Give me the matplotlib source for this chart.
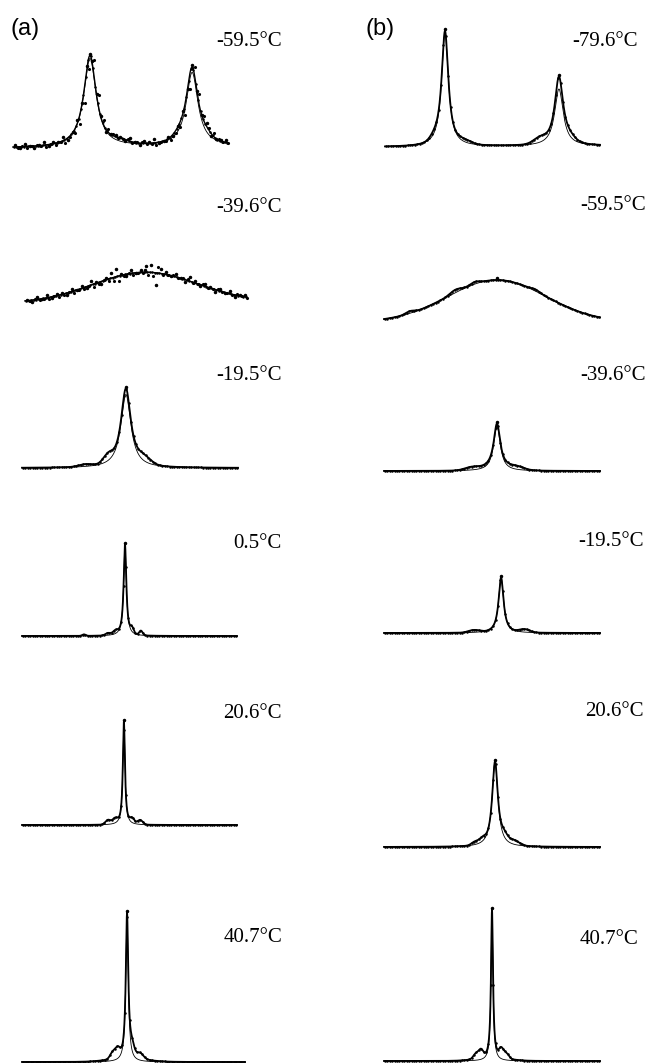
import numpy as np
import matplotlib.pyplot as plt

# temperature labels for the two series
temps_a = ["-59.5°C", "-39.6°C", "-19.5°C", "0.5°C", "20.6°C", "40.7°C"]
temps_b = ["-79.6°C", "-59.5°C", "-39.6°C", "-19.5°C", "20.6°C", "40.7°C"]

# line shape of each spectrum: L = lorentzian, G = gaussian
kind_a = ["L", "G", "L", "L", "L", "L"]
kind_b = ["L", "G", "L", "L", "L", "L"]

# peaks: (centre %, fit height, data height, half width %)  (x in % of sweep, intensity in a.u.)
peaks_a = [
    [(35.8, 0.59, 0.61, 3.5), (83.3, 0.49, 0.52, 3.3)],
    [(54.0, 0.20, 0.20, 23.4)],
    [(48.1, 0.49, 0.53, 2.8)],
    [(47.9, 0.61, 0.61, 0.75)],
    [(47.4, 0.69, 0.69, 0.6)],
    [(47.1, 0.97, 0.97, 0.67)],
]
peaks_b = [
    [(27.9, 0.76, 0.77, 1.9), (80.9, 0.38, 0.46, 2.4)],
    [(52.3, 0.28, 0.28, 22.7)],
    [(52.3, 0.30, 0.30, 1.85)],
    [(54.2, 0.37, 0.37, 1.4)],
    [(51.4, 0.57, 0.57, 1.6)],
    [(50.0, 0.99, 0.99, 0.55)],
]

# shoulders seen in the measured points only: (centre %, height, width %)
shoulders_a = [
    [(50.0, 0.02, 4.0), (77.7, 0.025, 3.0), (89.8, 0.03, 2.5)],
    [],
    [(29.2, 0.015, 3.0), (39.8, 0.05, 2.2), (56.5, 0.04, 3.0)],
    [(28.8, 0.01, 0.8), (40.0, 0.015, 1.2), (43.5, 0.025, 1.2), (51.2, 0.035, 0.8), (55.3, 0.03, 0.8)],
    [(40.0, 0.03, 1.2), (43.3, 0.035, 1.2), (51.2, 0.035, 1.0), (54.9, 0.03, 1.2)],
    [(47.0, 0.02, 8.0), (40.8, 0.045, 1.2), (43.0, 0.055, 1.0), (49.3, 0.065, 1.0), (52.9, 0.035, 1.5)],
]
shoulders_b = [
    [(23.0, 0.025, 2.0), (37.0, 0.02, 3.0), (72.1, 0.035, 3.0), (86.0, 0.025, 2.5)],
    [(12.0, 0.015, 2.0), (33.0, 0.02, 2.5), (42.0, 0.015, 2.0), (70.0, 0.012, 2.0)],
    [(40.3, 0.015, 3.0), (47.0, 0.012, 6.0), (57.0, 0.012, 6.0), (61.6, 0.015, 3.0)],
    [(40.3, 0.01, 2.0), (43.0, 0.01, 2.0), (63.9, 0.012, 2.0), (66.2, 0.012, 2.0)],
    [(42.0, 0.02, 1.5), (45.5, 0.03, 1.5), (55.6, 0.04, 1.5), (60.0, 0.03, 2.5)],
    [(50.0, 0.02, 7.0), (42.6, 0.035, 1.2), (44.9, 0.05, 1.0), (54.2, 0.055, 1.0), (56.5, 0.035, 1.2)],
]

# baseline level at start / end of sweep
base_a = [(0.0, 0.013), (0.0, 0.01), (0.0, 0.0), (0.0, 0.0), (0.0, 0.0), (0.0, 0.0)]
base_b = [(0.0, 0.007), (0.0, 0.0), (0.0, 0.0), (0.0, 0.0), (0.0, 0.0), (0.0, 0.0)]

# scatter of the measured points about the curve (a.u. x150) for the noisy spectra
noise_a1 = [2, -1, 3, 0, -2, 1, 3, -1, 2, 0, 4, -2, 1, 3, 0, 2, -1, 1, 3, -2, 0, 2, 1,
            -1, 3, 0, -2, 2, 1, 4, -1, 0, 2, -2, 1, 3, 0, -1, 2, 1, 3, -2, 0, 1, 2]
noise_a2 = [1, -2, 2, 0, 3, -1, 2, 1, -2, 3, 0, 2, -1, 4, 1, -3, 2, 5, 8, 1, -2, 3, 0,
            2, 6, 7, -12, 4, 2, -1, 3, 0, -2, 4, 2, -1, 3, 1, -2, 2, 0, 3, -2, 1, 2]

# placement of each trace on the page (pixels): left, width, baseline
place_a = [(13, 215, 148), (25, 222, 303), (22, 216, 468), (22, 215, 636), (22, 215, 825), (22, 223, 1062)]
place_b = [(385, 215, 147), (384, 216, 322), (384, 216, 471), (384, 216, 633), (384, 216, 847), (384, 216, 1061)]
label_pos_a = [(282, 41), (282, 207), (282, 375), (282, 543), (282, 713), (282, 938)]
label_pos_b = [(638, 42), (646, 206), (646, 375), (644, 542), (644, 712), (638, 939)]

W, H = 648, 1063
SCALE = 150.0  # pixels per intensity unit
PAD, TOP = 10, 160

fig = plt.figure(figsize=(W / 100, H / 100), dpi=100)


def curve(x, peaks, shoulders, base, kind, measured):
    y = base[0] + (base[1] - base[0]) * x / 100.0
    for c, a_fit, a_dat, w in peaks:
        a = a_dat if measured else a_fit
        if kind == "G":
            y = y + a * np.exp(-0.5 * ((x - c) / w) ** 2)
        else:
            y = y + a / (1 + ((x - c) / w) ** 2)
    if measured:
        for c, h, w in shoulders:
            y = y + h * np.exp(-0.5 * ((x - c) / w) ** 2)
    return y


x = np.linspace(0, 100, 3000)
noise = {("a", 0): noise_a1, ("a", 1): noise_a2}

for col, temps, kinds, peaks, shoulders, bases, places, lpos in [
    ("a", temps_a, kind_a, peaks_a, shoulders_a, base_a, place_a, label_pos_a),
    ("b", temps_b, kind_b, peaks_b, shoulders_b, base_b, place_b, label_pos_b),
]:
    for i in range(6):
        left, width, basey = places[i]
        ax = fig.add_axes([left / W, (H - basey - PAD) / H, width / W, (PAD + TOP) / H])
        ax.set_xlim(0, 100)
        ax.set_ylim(-PAD / SCALE, TOP / SCALE)
        ax.axis("off")

        y_fit = curve(x, peaks[i], shoulders[i], bases[i], kinds[i], False)
        y_dat = curve(x, peaks[i], shoulders[i], bases[i], kinds[i], True)
        noisy = (col, i) in noise
        ax.plot(x, y_dat, color="black", lw=1.0 if noisy else 1.3, clip_on=False)
        ax.plot(x, y_fit, color="black", lw=0.6, clip_on=False)

        # measured points: sampled dots plus one at each peak top
        xd = np.linspace(0.5, 99.5, 90)
        ax.plot(xd, curve(xd, peaks[i], shoulders[i], bases[i], kinds[i], True), ".",
                color="black", ms=1.6, clip_on=False)
        if noisy:
            dev = np.array(noise[(col, i)]) / SCALE
            xn = np.linspace(1, 99, len(dev))
            yn = curve(xn, peaks[i], shoulders[i], bases[i], kinds[i], True) + dev
            ax.plot(xn, yn, ".", color="black", ms=3, clip_on=False)
            ax.plot(xn + 1.1, yn - dev * 1.5, ".", color="black", ms=2.5, clip_on=False)
        for c, a_fit, a_dat, w in peaks[i]:
            ax.plot([c], [curve(np.array([c]), peaks[i], shoulders[i], bases[i], kinds[i], True)[0] + 0.012],
                    ".", color="black", ms=3, clip_on=False)

        lx, ly = lpos[i]
        fig.text(lx / W, 1 - ly / H, temps[i], ha="right", va="center",
                 family="Liberation Serif", fontsize=15)

fig.text(10 / W, 1 - 29 / H, "(a)", ha="left", va="center", family="Liberation Sans", fontsize=17)
fig.text(366 / W, 1 - 29 / H, "(b)", ha="left", va="center", family="Liberation Sans", fontsize=17)

fig.savefig("out.png", dpi=100, facecolor="white")
